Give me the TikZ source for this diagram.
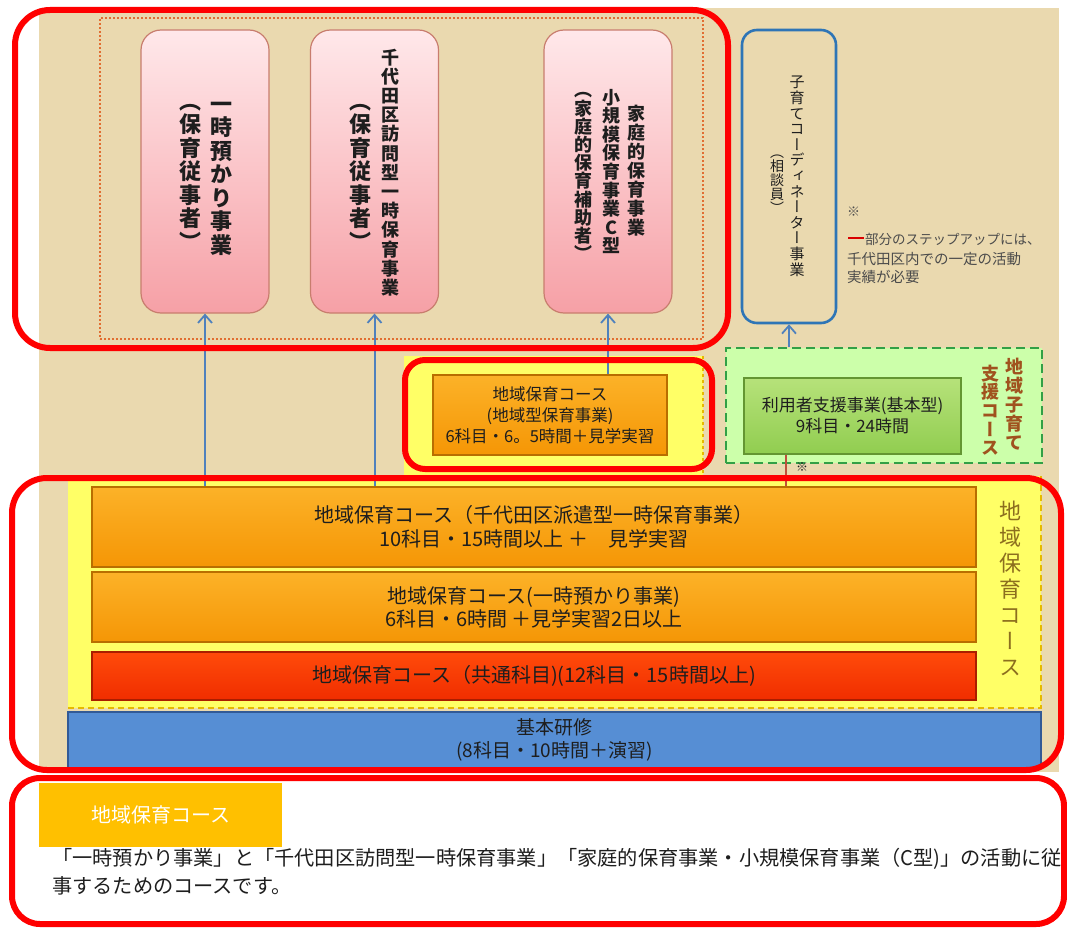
\documentclass[tikz,border=0pt]{standalone}
\usepackage{fontspec}
\usetikzlibrary{arrows.meta}
\newfontfamily\jp{Noto Sans CJK JP}
\newfontfamily\vjp[RawFeature=+vert]{Noto Sans CJK JP}
\newdimen\vgap
\def\vcolA#1{\ifx\relax#1\else\hbox to 1em{\hss#1\hss\vrule height .88em depth .12em width 0pt}\kern\vgap\expandafter\vcolA\fi}
\newcommand\vcol[2][0pt]{\vbox{\offinterlineskip\vgap=#1\relax\vcolA#2\relax}}
\definecolor{beige}{RGB}{234,217,175}
\definecolor{yel}{RGB}{255,255,102}
\definecolor{gold}{RGB}{230,185,0}
\definecolor{pinktop}{RGB}{255,232,234}
\definecolor{pinkbot}{RGB}{246,160,166}
\definecolor{pinkedge}{RGB}{200,125,110}
\definecolor{ortop}{RGB}{252,178,40}
\definecolor{orbot}{RGB}{245,150,5}
\definecolor{oredge}{RGB}{185,110,0}
\definecolor{redtop}{RGB}{255,75,10}
\definecolor{redbot}{RGB}{240,45,0}
\definecolor{rededge}{RGB}{170,30,0}
\definecolor{bluefill}{RGB}{86,142,212}
\definecolor{blueedge}{RGB}{50,90,150}
\definecolor{coblue}{RGB}{46,117,182}
\definecolor{grtop}{RGB}{182,226,122}
\definecolor{grbot}{RGB}{145,205,80}
\definecolor{gredge}{RGB}{100,150,50}
\definecolor{lightgr}{RGB}{204,255,170}
\definecolor{dashgr}{RGB}{50,160,70}
\definecolor{brownv}{RGB}{160,82,30}
\definecolor{olivev}{RGB}{140,110,30}
\definecolor{arrblue}{RGB}{79,129,189}
\definecolor{linkred}{RGB}{192,80,60}
\definecolor{dotor}{RGB}{225,110,50}
\definecolor{labelgold}{RGB}{255,192,0}
\definecolor{txt}{RGB}{30,30,30}
\tikzset{
  redframe/.style={draw=red, line width=6pt, rounded corners=#1},
  pinkbox/.style={draw=pinkedge, line width=1.2pt, rounded corners=20pt, top color=pinktop, bottom color=pinkbot, minimum width=128pt, minimum height=283pt, inner sep=0pt},
  orbox/.style={draw=oredge, line width=1.5pt, top color=ortop, bottom color=orbot, inner sep=0pt, text=txt, align=center},
  redbox/.style={draw=rededge, line width=1.5pt, top color=redtop, bottom color=redbot, inner sep=0pt, text=txt, align=center},
  vtext/.style={inner sep=0pt, text=txt},
  arr/.style={draw=arrblue, line width=2pt, -{Straight Barb[length=8pt,width=14pt,line width=1.8pt]}},
}
\begin{document}
\begin{tikzpicture}[x=1pt,y=-1pt]
\useasboundingbox (0,0) rectangle (1067,928);
\fill[white] (0,0) rectangle (1067,928);
% background
\fill[beige] (39,8) rectangle (1059,772);
% yellow areas
\fill[yel] (404,356) rectangle (703,482);
\draw[gold, line width=1.5pt, dashed] (703,356) -- (703,480);
\fill[yel] (68,476) rectangle (1041,708);
\draw[gold, line width=1.8pt, dash pattern=on 6pt off 4pt] (68,708) -- (1041,708) -- (1041,476);
% dotted group frame
\node[draw=dotor, line width=1.6pt, dash pattern=on 1.6pt off 2.4pt, minimum width=603pt, minimum height=321pt, inner sep=0pt] (grp) at (401.5,178.5) {};
% pink boxes
\node[pinkbox] (pk1) at (205,171.5) {};
\node[pinkbox] (pk2) at (374.5,171.5) {};
\node[pinkbox] (pk3) at (608,171.5) {};
\node[vtext, font=\vjp\bfseries\fontsize{22}{22}\selectfont] (pk1a) at (221,175) {\vcol[1.5pt]{一時預かり事業}};
\node[vtext, font=\vjp\bfseries\fontsize{22}{22}\selectfont] (pk1b) at (190,172) {\vcol[1.5pt]{（保育従事者）}};
\node[vtext, font=\vjp\bfseries\fontsize{18}{18}\selectfont] (pk2a) at (390,173) {\vcol[1.2pt]{千代田区訪問型一時保育事業}};
\node[vtext, font=\vjp\bfseries\fontsize{22}{22}\selectfont] (pk2b) at (360,172) {\vcol[1.5pt]{（保育従事者）}};
\node[vtext, font=\vjp\bfseries\fontsize{18}{18}\selectfont] (pk3a) at (636,171) {\vcol[1pt]{家庭的保育事業}};
\node[vtext, font=\vjp\bfseries\fontsize{18}{18}\selectfont] (pk3b) at (611,172) {\vcol[0.6pt]{小規模保育事業C型}};
\node[vtext, font=\vjp\bfseries\fontsize{18}{18}\selectfont] (pk3c) at (583,172) {\vcol[0.2pt]{（家庭的保育補助者）}};
% coordinator box
\node[draw=coblue, line width=2.6pt, rounded corners=15pt, minimum width=94pt, minimum height=293pt, inner sep=0pt] (cob) at (789,176.5) {};
\node[vtext, font=\vjp\fontsize{15}{15}\selectfont] (coba) at (797,176) {\vcol[0.6pt]{子育てコーディネーター事業}};
\node[vtext, font=\vjp\fontsize{14}{14}\selectfont] (cobb) at (777,180) {\vcol{（相談員）}};
% note
\node[anchor=west, inner sep=0pt, font=\jp\fontsize{13}{13}\selectfont, text=txt!80] (n0) at (847,212) {※};
\draw[red!85!black, line width=2.5pt] (848,238) -- (864,238);
\node[anchor=west, inner sep=0pt, font=\jp\fontsize{13.5}{13.5}\selectfont, text=txt!80] (n1) at (865,239) {部分のステップアップには、};
\node[anchor=west, inner sep=0pt, font=\jp\fontsize{14.5}{14.5}\selectfont, text=txt!80] (n2) at (847,259) {千代田区内での一定の活動};
\node[anchor=west, inner sep=0pt, font=\jp\fontsize{14.5}{14.5}\selectfont, text=txt!80] (n3) at (847,277) {実績が必要};
% small orange course
\node[orbox, minimum width=234pt, minimum height=80pt, font=\jp\fontsize{16.5}{21}\selectfont] (sor) at (550,415) {地域保育コース\\(地域型保育事業)\\6科目・6。5時間＋見学実習};
% green support course
\node[draw=dashgr, fill=lightgr, line width=2.5pt, dash pattern=on 9pt off 5pt, minimum width=316pt, minimum height=115pt, inner sep=0pt] (gd) at (884,405.5) {};
\node[draw=gredge, line width=1.5pt, top color=grtop, bottom color=grbot, minimum width=217pt, minimum height=76pt, inner sep=0pt, align=center, text=txt, font=\jp\fontsize{17}{21}\selectfont] (gb) at (852.5,416) {利用者支援事業(基本型)\\9科目・24時間};
\node[vtext, text=brownv, font=\vjp\bfseries\fontsize{18}{18}\selectfont] (gva) at (1014,405) {\vcol[1pt]{地域子育て}};
\node[vtext, text=brownv, font=\vjp\bfseries\fontsize{18}{18}\selectfont] (gvb) at (990,411) {\vcol[0.6pt]{支援コース}};
% main course boxes
\node[orbox, minimum width=884pt, minimum height=80pt, font=\jp\fontsize{20}{24}\selectfont] (orA) at (534,527) {地域保育コース（千代田区派遣型一時保育事業）\\10科目・15時間以上 ＋　見学実習};
\node[orbox, minimum width=884pt, minimum height=70pt, font=\jp\fontsize{20}{23}\selectfont] (orB) at (534,607) {地域保育コース(一時預かり事業)\\6科目・6時間 ＋見学実習2日以上};
\node[redbox, minimum width=884pt, minimum height=48pt, font=\jp\fontsize{20}{22}\selectfont] (redC) at (534,676) {地域保育コース（共通科目)(12科目・15時間以上)};
\node[vtext, text=olivev, font=\vjp\fontsize{22}{22}\selectfont] (yv) at (1010,591) {\vcol[4pt]{地域保育コース}};
\node[draw=blueedge, line width=1.5pt, fill=bluefill, minimum width=973pt, minimum height=56pt, inner sep=0pt, align=center, text=txt, font=\jp\fontsize{19}{23}\selectfont] (base) at (554.5,740) {基本研修\\(8科目・10時間＋演習)};
% arrows
\draw[arr] (pk1.south |- orA.north) -- (pk1.south);
\draw[arr] (pk2.south |- orA.north) -- (pk2.south);
\draw[arr] (pk3.south |- sor.north) -- (pk3.south);
\draw[arr] (cob.south |- gd.north) -- (cob.south);
\draw[linkred, line width=2pt] (gb.south -| 786,0) -- (orA.north -| 786,0);
\node[inner sep=0pt, font=\jp\fontsize{12}{12}\selectfont, text=txt] (kome) at (802,467) {※};
% bottom explanation
\node[fill=labelgold, minimum width=243pt, minimum height=64pt, inner sep=0pt, text=white, font=\jp\fontsize{20}{20}\selectfont] (lbl) at (160.5,815) {地域保育コース};
\node[anchor=west, inner sep=0pt, text=txt, font=\jp\fontsize{20.2}{20.2}\selectfont] (p1) at (52,859) {「一時預かり事業」と「千代田区訪問型一時保育事業」「家庭的保育事業・小規模保育事業（C型)」の活動に従};
\node[anchor=west, inner sep=0pt, text=txt, font=\jp\fontsize{20.2}{20.2}\selectfont] (p2) at (52,886) {事するためのコースです。};
% red highlight frames
\draw[redframe=35pt] (15,10) rectangle (728,348);
\draw[redframe=20pt] (405,360) rectangle (712,469);
\draw[redframe=35pt] (12,478) rectangle (1061,770);
\draw[redframe=28pt] (12,778) rectangle (1064,924);
\end{tikzpicture}
\end{document}
